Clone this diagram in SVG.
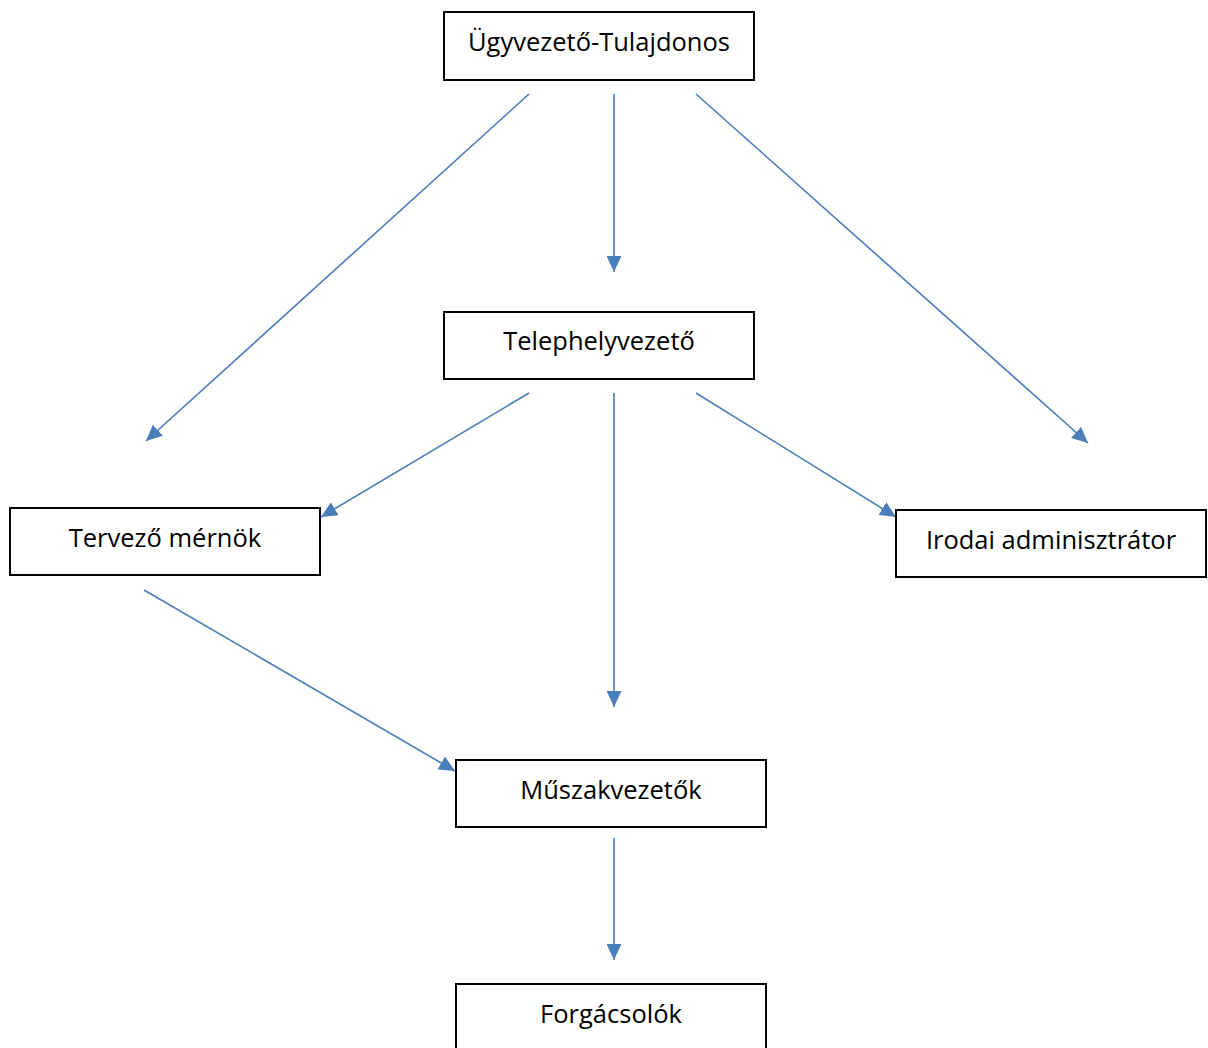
<svg xmlns="http://www.w3.org/2000/svg" width="1208" height="1048" viewBox="0 0 1208 1048">
<style>
.box{fill:#fff;stroke:#000;stroke-width:2}
.lbl{font-family:"Open Sans","Noto Sans","Liberation Sans",sans-serif;font-size:25.5px;fill:#000;text-anchor:middle;dominant-baseline:central}
.con{stroke:#4A7EBB;stroke-width:1.6;fill:none;marker-end:url(#ah)}
</style>
<defs>
<marker id="ah" markerUnits="userSpaceOnUse" markerWidth="17" markerHeight="15" refX="16" refY="7.5" orient="auto">
<path d="M0,0 L16,7.5 L0,15 Z" fill="#4A7EBB"/>
</marker>
</defs>
<rect width="1208" height="1048" fill="#fff"/>
<g id="connectors">
<line class="con" x1="529" y1="94" x2="146" y2="441"/>
<line class="con" x1="614" y1="94" x2="614" y2="272"/>
<line class="con" x1="696" y1="94" x2="1088" y2="443"/>
<line class="con" x1="529" y1="393" x2="321" y2="517"/>
<line class="con" x1="614" y1="393" x2="614" y2="707"/>
<line class="con" x1="696" y1="393" x2="896" y2="517"/>
<line class="con" x1="144" y1="590" x2="455" y2="771"/>
<line class="con" x1="614" y1="838" x2="614" y2="960"/>
</g>
<g id="n1"><rect class="box" x="444" y="12" width="310" height="68"/><text class="lbl" x="599" y="41">Ügyvezető-Tulajdonos</text></g>
<g id="n2"><rect class="box" x="444" y="312" width="310" height="67"/><text class="lbl" x="599" y="340">Telephelyvezető</text></g>
<g id="n3"><rect class="box" x="10" y="508" width="310" height="67"/><text class="lbl" x="165" y="537">Tervező mérnök</text></g>
<g id="n4"><rect class="box" x="896" y="510" width="310" height="67"/><text class="lbl" x="1051" y="539">Irodai adminisztrátor</text></g>
<g id="n5"><rect class="box" x="456" y="760" width="310" height="67"/><text class="lbl" x="611" y="789">Műszakvezetők</text></g>
<g id="n6"><rect class="box" x="456" y="984" width="310" height="80"/><text class="lbl" x="611" y="1013">Forgácsolók</text></g>
</svg>
